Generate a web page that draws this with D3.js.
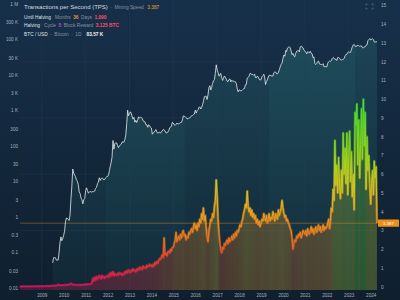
<!DOCTYPE html>
<html>
<head>
<meta charset="utf-8">
<script src="https://cdn.jsdelivr.net/npm/d3@7"></script>
<style>
  html, body { margin: 0; padding: 0; background: #132a3d; }
  svg { display: block; font-family: "Liberation Sans", Arial, sans-serif; }
</style>
</head>
<body>
<svg id="chart" width="400" height="300"></svg>
<script>
// BTC/USD, two readings a month (1st and 16th), starting 2010-07-01
const btcStart = [2010, 6];
const btcPrice = [
  0.05, 0.07, 0.07, 0.07, 0.06, 0.06, 0.06, 0.10, 0.19, 0.27, 0.21, 0.24,
  0.30, 0.40, 0.75, 0.92, 0.90, 0.85, 0.78, 1.1, 3.0, 7.0, 22, 17, 15, 13.5, 11, 10, 8, 5.0, 4.5, 3.4, 3.0, 2.3, 3.0, 3.2,
  5.3, 6.5, 5.5, 4.6, 4.9, 5.2, 4.9, 5.0, 5.1, 5.1, 5.3, 6.3, 6.7, 8.5, 9.5, 12.5, 10.5, 11.8, 12.4, 11.8, 10.8, 11.3, 12.6, 13.3,
  13.5, 15, 20, 27, 34, 47, 140, 80, 115, 120, 120, 100, 88, 98, 105, 110, 128, 127, 125, 150, 205, 420, 1000, 700,
  800, 900, 800, 640, 560, 630, 460, 520, 450, 520, 650, 600, 630, 620, 590, 500, 480, 470, 390, 390, 330, 390, 370, 330,
  315, 210, 230, 245, 255, 285, 245, 225, 235, 240, 225, 250, 260, 285, 280, 260, 230, 230, 240, 265, 320, 330, 360, 455,
  435, 390, 375, 400, 435, 415, 415, 430, 450, 455, 535, 690, 670, 660, 620, 570, 570, 610, 610, 640, 700, 710, 750, 780,
  1000, 830, 970, 1030, 1180, 1250, 1080, 1180, 1420, 1750, 2400, 2460, 2480, 2000, 2720, 4300, 4900, 3700, 4400, 5700, 6700, 7300, 10900, 19000,
  13500, 11500, 9100, 10100, 10900, 8300, 6900, 8000, 9200, 8500, 7500, 6500, 6400, 7300, 7600, 6300, 7000, 6500, 6600, 6400, 6300, 5600, 4000, 3300,
  3750, 3650, 3450, 3600, 3800, 4000, 4100, 5200, 5300, 8000, 8500, 8900, 10800, 10800, 10000, 10300, 9600, 10300, 8300, 8200, 9200, 8500, 7400, 7100,
  7200, 8800, 9400, 10300, 8600, 5300, 6400, 7100, 8600, 9700, 9500, 9500, 9100, 9200, 11300, 11900, 11900, 10700, 10600, 11500, 13800, 16700, 19600, 21300,
  29000, 36000, 33100, 48000, 45000, 56000, 58800, 61300, 57700, 46800, 36700, 40100, 33500, 31800, 39900, 45900, 47100, 47800, 43800, 60800, 64000, 60100, 57000, 48900,
  46300, 43100, 38500, 44200, 43200, 41100, 45500, 40400, 38500, 30000, 31800, 20400, 19300, 20800, 23300, 24100, 20000, 19700, 19400, 19200, 20500, 16600, 17000, 16800,
  16600, 21100, 23100, 24300, 23600, 24700, 28500, 30300, 29300, 27000, 27200, 25100, 30500, 30300, 29200, 26600, 26000, 26600, 27000, 28500, 34600, 36600, 37700, 42300,
  44200, 42500, 42600, 51900, 61200, 68400, 71300, 63500, 60600, 66200, 67500, 65900, 62700, 64800, 64600, 57500, 57300, 60300, 60800, 67400, 69500, 91000, 97000, 104000,
  94400, 100500, 102400, 97500, 84300, 82700, 85000, 83570
];

// transactions per second, two readings a month, starting 2009-01-01
const tpsStart = [2009, 0];
const tpsValues = [
  0.01, 0.01, 0.02, 0.01, 0.02, 0.02, 0.01, 0.02, 0.02, 0.01, 0.02, 0.02, 0.02, 0.02, 0.02, 0.02, 0.03, 0.02, 0.02, 0.02, 0.03, 0.02, 0.03, 0.03,
  0.03, 0.02, 0.03, 0.03, 0.03, 0.03, 0.04, 0.03, 0.04, 0.04, 0.04, 0.05, 0.05, 0.05, 0.05, 0.06, 0.06, 0.07, 0.12, 0.08, 0.07, 0.08, 0.07, 0.08,
  0.08, 0.09, 0.09, 0.1, 0.1, 0.11, 0.12, 0.14, 0.18, 0.13, 0.12, 0.11, 0.1, 0.1, 0.1, 0.1, 0.1, 0.1, 0.09, 0.1, 0.1, 0.11, 0.11, 0.12,
  0.12, 0.12, 0.13, 0.13, 0.14, 0.14, 0.15, 0.2, 0.45, 0.3, 0.5, 0.35, 0.55, 0.4, 0.45, 0.6, 0.5, 0.42, 0.6, 0.48, 0.55, 0.45, 0.5, 0.58,
  0.6, 0.5, 0.7, 0.55, 0.75, 0.62, 0.8, 0.58, 0.7, 0.65, 0.6, 0.7, 0.62, 0.75, 0.68, 0.72, 0.6, 0.7, 0.65, 0.8, 0.72, 0.85, 0.75, 0.9,
  0.8, 0.75, 0.9, 0.82, 0.95, 0.85, 0.9, 0.8, 0.95, 0.88, 1.0, 0.9, 1.05, 0.95, 0.92, 1.1, 1.0, 1.05, 0.98, 1.15, 1.05, 1.1, 1.2, 1.1,
  1.15, 1.05, 1.2, 1.1, 1.3, 1.2, 1.35, 1.25, 1.4, 1.5, 1.45, 1.6, 1.7, 1.55, 2.6, 1.7, 1.8, 1.65, 1.85, 1.9, 1.8, 2.0, 1.9, 2.1,
  2.1, 2.3, 2.5, 2.9, 2.4, 2.6, 2.7, 2.5, 2.8, 2.6, 2.9, 3.0, 2.7, 2.8, 2.5, 2.7, 2.6, 2.9, 2.8, 3.0, 3.1, 2.9, 3.2, 3.4,
  3.1, 3.3, 3.0, 3.4, 3.2, 3.6, 3.4, 3.9, 3.6, 4.2, 3.5, 3.8, 3.2, 2.7, 2.4, 3.0, 3.3, 3.6, 3.5, 3.9, 3.7, 4.3, 4.6, 5.7,
  4.8, 3.6, 2.8, 2.3, 2.0, 1.8, 2.1, 2.0, 2.3, 2.2, 2.4, 2.5, 2.3, 2.6, 2.4, 2.5, 2.7, 2.5, 2.8, 2.6, 2.9, 2.7, 3.0, 2.9,
  3.1, 3.3, 3.2, 3.5, 3.6, 3.9, 4.1, 4.4, 4.2, 5.1, 4.3, 4.0, 4.2, 3.8, 4.1, 3.7, 3.9, 3.6, 3.8, 3.4, 3.6, 3.3, 3.5, 3.2,
  3.4, 3.6, 3.5, 3.9, 3.7, 3.5, 3.8, 3.4, 3.6, 3.9, 3.5, 3.7, 3.6, 4.0, 3.8, 3.5, 3.9, 3.7, 3.6, 4.1, 3.8, 4.0, 4.2, 4.6,
  4.2, 3.9, 3.7, 3.8, 3.5, 3.6, 3.4, 3.3, 3.1, 3.0, 2.6, 2.0, 2.3, 2.5, 2.4, 2.7, 2.6, 2.8, 2.7, 2.9, 2.6, 2.8, 3.0, 2.9,
  2.8, 3.0, 2.7, 3.1, 2.9, 2.8, 3.0, 3.2, 2.9, 3.1, 2.8, 3.0, 3.2, 2.9, 3.1, 3.3, 3.0, 3.2, 2.9, 3.1, 3.3, 3.0, 3.2, 3.1,
  3.2, 3.4, 3.6, 3.1, 3.5, 4.2, 4.0, 5.2, 4.6, 7.8, 5.4, 6.5, 5.0, 6.9, 5.5, 4.7, 6.2, 5.0, 8.2, 6.0, 7.4, 5.5, 8.2, 4.9,
  7.0, 8.3, 5.6, 7.2, 4.8, 6.0, 4.1, 9.3, 8.6, 9.75, 6.5, 8.9, 5.8, 7.6, 9.5, 6.8, 10.0, 7.5, 9.3, 5.2, 8.0, 6.2, 7.0, 5.5,
  4.4, 5.5, 6.2, 4.9, 6.7, 5.8, 6.4, 3.387
];

const halvingDates = ['2012-11-28', '2016-07-09', '2020-05-11', '2024-04-20'];

const priceTicks = [0.01, 0.03, 0.1, 0.3, 1, 3, 10, 30, 100, 300, 1000, 3000, 10000, 30000, 100000, 300000, 1000000];
const priceTickLabels = ['0.01', '0.03', '0.1', '0.3', '1', '3', '10', '30', '100', '300', '1 K', '3 K', '10 K', '30 K', '100 K', '300 K', '1 M'];
const tpsTicks = [0, 1, 2, 3, 4, 5, 6, 7, 8, 9, 10, 11, 12, 13, 14, 15];
const yearLabels = [2009, 2010, 2011, 2012, 2013, 2014, 2015, 2016, 2017, 2018, 2019, 2020, 2021, 2022, 2023, 2024];
const currentTps = 3.387;

function halfMonth(start, i) {
  return new Date(start[0], start[1] + Math.floor(i / 2), i % 2 ? 16 : 1);
}

const btcData = btcPrice.map(function (v, i) { return {date: halfMonth(btcStart, i), value: v}; });
const tpsData = tpsValues.map(function (v, i) { return {date: halfMonth(tpsStart, i), value: v}; });

const svg = d3.select('#chart'),
  width = 400,
  left = 20, right = 377, bottom = 290;

const x = d3.scaleTime()
  .domain([new Date(2009, 0, 3), new Date(2025, 3, 16)])
  .range([left, right]);
const yPrice = d3.scaleLog().domain([0.01, 1e6]).range([287.7, 3.7]);
const yTps = d3.scaleLinear().domain([0, 15]).range([286.7, 5.5]);

const tpsColor = d3.scaleLinear()
  .domain([0, 0.8, 1.8, 3, 4.2, 5.5, 7.5, 10])
  .range(['#e0185a', '#e8243e', '#ec5524', '#f0861c', '#f0aa1e', '#d2c81e', '#86d61e', '#3ee030'])
  .clamp(true);

const defs = svg.append('defs');

const bg = defs.append('linearGradient').attr('id', 'bg')
  .attr('x1', 0).attr('x2', 0).attr('y1', 0).attr('y2', 1);
bg.append('stop').attr('offset', 0).attr('stop-color', '#17304a');
bg.append('stop').attr('offset', 1).attr('stop-color', '#0f1f2e');

const teal = defs.append('linearGradient').attr('id', 'teal')
  .attr('gradientUnits', 'userSpaceOnUse')
  .attr('x1', 0).attr('x2', 0).attr('y1', 0).attr('y2', bottom);
teal.append('stop').attr('offset', 0).attr('stop-color', '#2a7878').attr('stop-opacity', 0.45);
teal.append('stop').attr('offset', 1).attr('stop-color', '#2a7878').attr('stop-opacity', 0.12);

const tpsStroke = defs.append('linearGradient').attr('id', 'tpsStroke')
  .attr('gradientUnits', 'userSpaceOnUse')
  .attr('x1', 0).attr('x2', 0).attr('y1', yTps(0)).attr('y2', yTps(10));
d3.range(0, 10.5, 0.5).forEach(function (v) {
  tpsStroke.append('stop').attr('offset', v / 10).attr('stop-color', tpsColor(v));
});

const x0 = x(tpsData[0].date), x1 = x(tpsData[tpsData.length - 1].date);
const tpsFill = defs.append('linearGradient').attr('id', 'tpsFill')
  .attr('gradientUnits', 'userSpaceOnUse')
  .attr('x1', x0).attr('x2', x1).attr('y1', 0).attr('y2', 0);
tpsData.forEach(function (d) {
  tpsFill.append('stop')
    .attr('offset', (x(d.date) - x0) / (x1 - x0))
    .attr('stop-color', tpsColor(d.value))
    .attr('stop-opacity', 0.26);
});

svg.append('rect').attr('width', width).attr('height', 300).attr('fill', 'url(#bg)');

// area under the price line, shaded per halving cycle
const priceArea = d3.area()
  .x(function (d) { return x(d.date); })
  .y0(bottom)
  .y1(function (d) { return yPrice(d.value); });

defs.append('clipPath').attr('id', 'underPrice')
  .append('path').datum(btcData).attr('d', priceArea);

const cycleEdges = [x.domain()[0]].concat(halvingDates.map(function (s) { return new Date(s); }), [x.domain()[1]]);
const bands = svg.append('g').attr('clip-path', 'url(#underPrice)');
d3.pairs(cycleEdges).forEach(function (p, i) {
  bands.append('rect')
    .attr('x', x(p[0])).attr('width', x(p[1]) - x(p[0]))
    .attr('y', 0).attr('height', bottom)
    .attr('fill', 'url(#teal)')
    .attr('opacity', i % 2 ? 1 : 0.72);
});

// grid
const grid = svg.append('g').attr('stroke', '#2a4560').attr('stroke-width', 0.5).attr('opacity', 0.6);
yearLabels.filter(function (y, i) { return i % 2 === 0; }).forEach(function (y) {
  const gx = x(new Date(y + 1, 0, 1));
  grid.append('line').attr('x1', gx).attr('x2', gx).attr('y1', 0).attr('y2', bottom);
});
[3, 6, 9, 12].forEach(function (v) {
  grid.append('line').attr('x1', left).attr('x2', right).attr('y1', yTps(v)).attr('y2', yTps(v));
});

// TPS area + line
const tpsArea = d3.area()
  .x(function (d) { return x(d.date); })
  .y0(bottom)
  .y1(function (d) { return yTps(d.value); });
svg.append('path').datum(tpsData).attr('d', tpsArea).attr('fill', 'url(#tpsFill)');

const tpsLine = d3.line()
  .x(function (d) { return x(d.date); })
  .y(function (d) { return yTps(d.value); });
svg.append('path').datum(tpsData).attr('d', tpsLine)
  .attr('fill', 'none').attr('stroke', 'url(#tpsStroke)').attr('stroke-width', 2.4)
  .attr('stroke-opacity', 0.55).attr('stroke-linejoin', 'round');
svg.append('path').datum(tpsData).attr('d', tpsLine)
  .attr('fill', 'none').attr('stroke', 'url(#tpsStroke)').attr('stroke-width', 1)
  .attr('stroke-linejoin', 'round');

// current TPS
svg.append('line')
  .attr('x1', left).attr('x2', right)
  .attr('y1', yTps(currentTps)).attr('y2', yTps(currentTps))
  .attr('stroke', '#e8901c').attr('stroke-width', 0.6).attr('opacity', 0.7);

// BTC price line
const priceLine = d3.line()
  .x(function (d) { return x(d.date); })
  .y(function (d) { return yPrice(d.value); });
svg.append('path').datum(btcData).attr('d', priceLine)
  .attr('fill', 'none').attr('stroke', '#e6ecef').attr('stroke-width', 0.8)
  .attr('stroke-linejoin', 'round');

// axes
const axisLeft = d3.axisLeft(yPrice).tickValues(priceTicks).tickSize(0).tickPadding(0)
  .tickFormat(function (d, i) { return priceTickLabels[i]; });
const gl = svg.append('g').attr('transform', 'translate(18,0)').call(axisLeft);

const axisRight = d3.axisRight(yTps).tickValues(tpsTicks).tickSize(0).tickPadding(0)
  .tickFormat(d3.format('d'));
const gr = svg.append('g').attr('transform', 'translate(381,0)').call(axisRight);

const axisBottom = d3.axisBottom(x)
  .tickValues(yearLabels.map(function (y) { return new Date(y + 1, 0, 1); }))
  .tickSize(0).tickPadding(0)
  .tickFormat(function (d) { return d.getFullYear() - 1; });
const gb = svg.append('g').attr('transform', 'translate(0,294)').call(axisBottom);

[gl, gr, gb].forEach(function (g) {
  g.select('.domain').remove();
  g.selectAll('text').attr('fill', '#a7b1bb').attr('font-size', 4.6)
    .attr('font-family', '"Liberation Sans", Arial, sans-serif');
});

// current value tag
const tagY = yTps(currentTps);
svg.append('rect').attr('x', 378).attr('y', tagY - 3.6).attr('width', 21).attr('height', 7.2)
  .attr('fill', '#ef8f16').attr('rx', 0.6);
svg.append('text').attr('x', 388.5).attr('y', tagY + 1.6).attr('text-anchor', 'middle')
  .attr('font-size', 4.4).attr('fill', '#ffffff').text(d3.format('.3f')(currentTps));

// header, each part: [text, colour, size, weight, gap before]
function row(yPos, parts) {
  const t = svg.append('text').attr('x', 24).attr('y', yPos);
  parts.forEach(function (p) {
    t.append('tspan').attr('dx', p[4] || 0).attr('fill', p[1]).attr('font-size', p[2])
      .attr('font-weight', p[3] || 'normal').text(p[0]);
  });
}
const grey = '#8593a1', light = '#dfe4e8';
row(8.5, [['Transactions per Second (TPS)', '#d4dae0', 6], ['\u00b7', grey, 4.8, 'normal', 2.5], ['Mining Speed', grey, 4.8, 'normal', 2.5], ['3.387', '#e8a832', 4.8, 'normal', 3.5]]);
row(18.5, [['Until Halving', light, 4.8], ['Months', grey, 4.8, 'normal', 4], ['36', '#f08a3a', 4.8, 'bold', 2.5], ['Days', grey, 4.8, 'normal', 2.5], ['1,090', '#ff4f63', 4.8, 'bold', 2.5]]);
row(27, [['Halving', light, 4.8], ['Cycle', grey, 4.8, 'normal', 4], ['5', '#d447d4', 4.8, 'bold', 2.5], ['Block Reward', grey, 4.8, 'normal', 2.5], ['3.125 BTC', '#ff4f63', 4.8, 'bold', 2.5]]);
row(35.5, [['BTC / USD', light, 4.8], ['\u00b7', grey, 4.8, 'normal', 2.5], ['Bitcoin', grey, 4.8, 'normal', 2.5], ['\u00b7', grey, 4.8, 'normal', 2.5], ['1D', grey, 4.8, 'normal', 2.5], ['83.57 K', '#f2f4f6', 4.8, 'bold', 5]]);

// fullscreen icon
const icon = svg.append('g').attr('fill', 'none').attr('stroke', '#7f8c99').attr('stroke-width', 0.5);
icon.append('path').attr('d', 'M366,5.5V4H367.5M371.5,4H373V5.5M373,7.5V9H371.5M367.5,9H366V7.5');
</script>
</body>
</html>
